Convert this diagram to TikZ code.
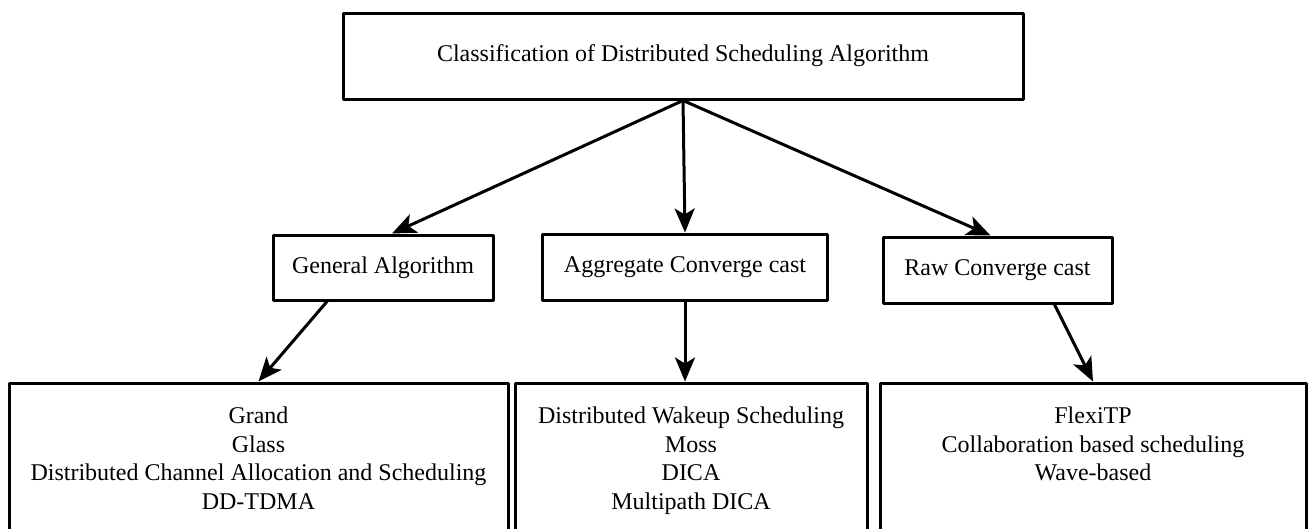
\documentclass[tikz,border=0pt]{standalone}
\usepackage{fontspec}
\setmainfont{Liberation Serif}
\usetikzlibrary{arrows.meta}

\tikzset{
  box/.style={draw,line width=3pt,rectangle,inner sep=0pt,align=center},
  listtext/.style={inner sep=0pt,align=center,anchor=north,font=\fontsize{24}{28.5}\selectfont},
  link/.style={line width=3pt,-{Stealth[length=24pt,width=20pt,inset=6pt]}}
}

\begin{document}
\begin{tikzpicture}
			[line cap=round,line join=round,x=1pt,y=-1pt]
			\clip (0,0) rectangle (1308,528);
			\fill[white] (0,0) rectangle (1308,528);
			% root
			\node[box,minimum width=680,minimum height=86,font=\fontsize{24}{28}\selectfont] (root) at (683,56) {Classification of Distributed Scheduling Algorithm};
			% second level
			\node[box,minimum width=220,minimum height=65,font=\fontsize{24}{28}\selectfont] (gen) at (383,267.5) {General Algorithm};
			\node[box,minimum width=285,minimum height=66,font=\fontsize{24}{28}\selectfont] (agg) at (685,267) {Aggregate Converge cast};
			\node[box,minimum width=229,minimum height=66,font=\fontsize{24}{28}\selectfont] (raw) at (997.5,270) {Raw Converge cast};
			% third level
			\node[box,minimum width=499,minimum height=177] (genlist) at (258.5,471.5) {};
			\node[box,minimum width=352,minimum height=177] (agglist) at (691,471.5) {};
			\node[box,minimum width=426,minimum height=177] (rawlist) at (1093,471.5) {};
			\node[listtext] (gentxt) at (258.5,407) {Grand\\Glass\\Distributed Channel Allocation and Scheduling\\DD-TDMA};
			\node[listtext] (aggtxt) at (691,407) {Distributed Wakeup Scheduling\\Moss\\DICA\\Multipath DICA};
			\node[listtext] (rawtxt) at (1093,407) {FlexiTP\\Collaboration based scheduling\\Wave-based};
			% arrows
			\draw[link] (root.south) -- ([xshift=9pt]gen.north);
			\draw[link] (root.south) -- (agg.north);
			\draw[link] (root.south) -- ([xshift=-7pt]raw.north);
			\draw[link] ([xshift=-56pt]gen.south) -- (genlist.north);
			\draw[link] (agg.south) -- ([xshift=-6pt]agglist.north);
			\draw[link] ([xshift=57pt]raw.south) -- (rawlist.north);
		\end{tikzpicture}
\end{document}
